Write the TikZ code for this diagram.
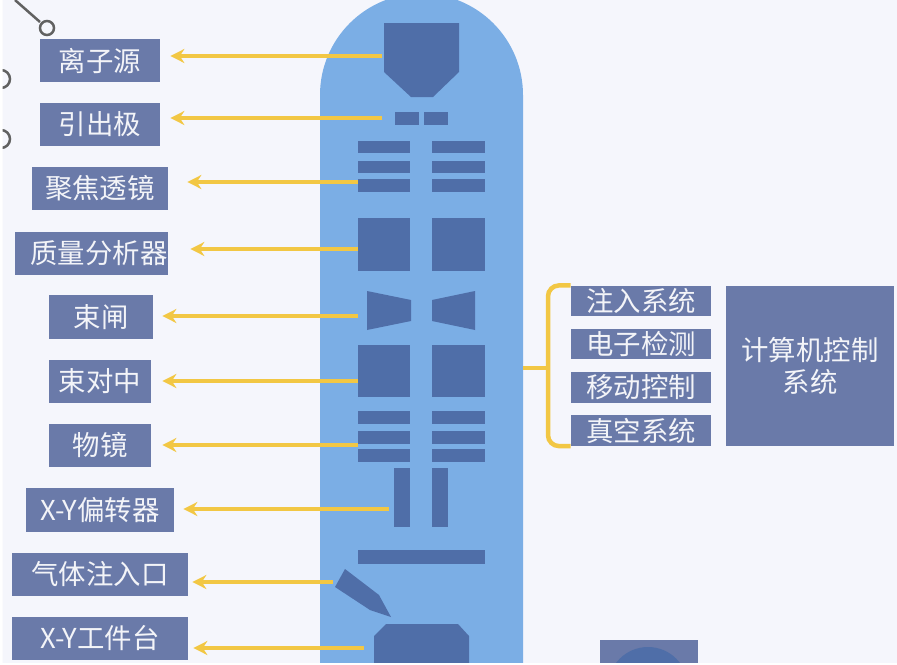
\documentclass[tikz,border=0pt]{standalone}
\usepackage{fontspec}
\setmainfont{Noto Sans CJK SC}
\usetikzlibrary{arrows.meta}
\definecolor{paper}{HTML}{F5F6FC}
\definecolor{column}{HTML}{7BAEE5}
\definecolor{part}{HTML}{4F6EA8}
\definecolor{tag}{HTML}{6A7AA9}
\definecolor{lead}{HTML}{F2C744}
\begin{document}
\begin{tikzpicture}[
  font=\fontsize{15.6}{18.6}\selectfont,
  tagbox/.style={draw=none,fill=tag,text=white!92!tag,inner sep=0pt,align=center},
  lefttag/.style={tagbox,minimum height=0.87cm},
  sidetag/.style={tagbox,minimum width=2.80cm,minimum height=0.61cm},
  piece/.style={draw=none,fill=part},
  arr/.style={draw=lead,line width=0.09cm,-{Stealth[length=0.28cm,width=0.28cm]}},
  brc/.style={draw=lead,line width=0.09cm},
  ring/.style={draw=black!62,line width=0.05cm},
]

\useasboundingbox (0,0) rectangle (17.94,-13.30);
\fill[white] (0,0) rectangle (17.94,-13.30);
\clip (0.05,0) rectangle (17.94,-13.24);
\fill[paper] (0,0) rectangle (17.94,-13.30);

\draw[ring] (0.30,0) -- (0.80,-0.44);
\draw[ring] (0.94,-0.56) circle (0.14);
\draw[ring] (0.02,-1.58) circle (0.18);
\draw[ring] (0.02,-2.78) circle (0.18);

\fill[column] (6.40,-13.30) -- (6.40,-1.90) arc[start angle=180,end angle=0,radius=2.03] -- (10.46,-13.30) -- cycle;

\fill[piece] (7.68,-0.46) -- (9.18,-0.46) -- (9.18,-1.44) -- (8.66,-1.94) -- (8.22,-1.94) -- (7.68,-1.44) -- cycle;
\fill[piece] (7.90,-2.24) rectangle (8.38,-2.50);
\fill[piece] (8.48,-2.24) rectangle (8.96,-2.50);

\fill[piece] (7.16,-2.82) rectangle (8.20,-3.06);
\fill[piece] (8.64,-2.82) rectangle (9.70,-3.06);
\fill[piece] (7.16,-3.22) rectangle (8.20,-3.46);
\fill[piece] (8.64,-3.22) rectangle (9.70,-3.46);
\fill[piece] (7.16,-3.58) rectangle (8.20,-3.84);
\fill[piece] (8.64,-3.58) rectangle (9.70,-3.84);

\fill[piece] (7.16,-4.36) rectangle (8.20,-5.42);
\fill[piece] (8.64,-4.36) rectangle (9.70,-5.42);

\fill[piece] (7.34,-5.82) -- (8.22,-6.00) -- (8.22,-6.42) -- (7.34,-6.60) -- cycle;
\fill[piece] (8.64,-6.00) -- (9.50,-5.82) -- (9.50,-6.60) -- (8.64,-6.42) -- cycle;

\fill[piece] (7.16,-6.90) rectangle (8.20,-7.94);
\fill[piece] (8.64,-6.90) rectangle (9.70,-7.94);

\fill[piece] (7.16,-8.22) rectangle (8.20,-8.48);
\fill[piece] (8.64,-8.22) rectangle (9.70,-8.48);
\fill[piece] (7.16,-8.62) rectangle (8.20,-8.88);
\fill[piece] (8.64,-8.62) rectangle (9.70,-8.88);
\fill[piece] (7.16,-8.98) rectangle (8.20,-9.24);
\fill[piece] (8.64,-8.98) rectangle (9.70,-9.24);

\fill[piece] (7.88,-9.36) rectangle (8.20,-10.54);
\fill[piece] (8.64,-9.36) rectangle (8.96,-10.54);

\fill[piece] (7.16,-11.00) rectangle (9.70,-11.28);

\fill[piece] (6.90,-11.38) -- (7.58,-11.90) -- (7.82,-12.34) -- (7.40,-12.20) -- (6.70,-11.74) -- cycle;

\fill[piece] (7.48,-13.30) -- (7.48,-12.72) -- (7.72,-12.48) -- (9.16,-12.48) -- (9.38,-12.72) -- (9.38,-13.30) -- cycle;

\coordinate (srcion) at (7.64,-1.12);
\coordinate (srcext) at (7.64,-2.36);
\coordinate (srcfoc) at (7.16,-3.64);
\coordinate (srcmas) at (7.16,-4.98);
\coordinate (srcgat) at (7.16,-6.32);
\coordinate (srcali) at (7.16,-7.62);
\coordinate (srcobj) at (7.16,-8.90);
\coordinate (srcdef) at (7.78,-10.18);
\coordinate (srcgas) at (6.66,-11.64);
\coordinate (srcsta) at (7.28,-12.96);

\node[lefttag,minimum width=2.40cm] (ion) at (2.00,-1.21) {离子源};
\node[lefttag,minimum width=2.40cm] (ext) at (2.00,-2.49) {引出极};
\node[lefttag,minimum width=2.72cm] (foc) at (2.00,-3.77) {聚焦透镜};
\node[lefttag,minimum width=3.06cm] (mas) at (1.83,-5.07) {\hspace*{0.30cm}质量分析器};
\node[lefttag,minimum width=2.08cm] (gat) at (2.02,-6.34) {束闸};
\node[lefttag,minimum width=2.04cm] (ali) at (2.00,-7.63) {束对中};
\node[lefttag,minimum width=2.04cm] (obj) at (2.00,-8.91) {物镜};
\node[lefttag,minimum width=2.96cm] (def) at (2.00,-10.20) {X-Y偏转器};
\node[lefttag,minimum width=3.52cm] (gas) at (2.00,-11.49) {气体注入口};
\node[lefttag,minimum width=3.52cm] (sta) at (2.00,-12.77) {X-Y工件台};

\draw[arr,shorten >=0.20cm] (srcion) -- (ion.east |- srcion);
\draw[arr,shorten >=0.20cm] (srcext) -- (ext.east |- srcext);
\draw[arr,shorten >=0.38cm] (srcfoc) -- (foc.east |- srcfoc);
\draw[arr,shorten >=0.44cm] (srcmas) -- (mas.east |- srcmas);
\draw[arr,shorten >=0.18cm] (srcgat) -- (gat.east |- srcgat);
\draw[arr,shorten >=0.22cm] (srcali) -- (ali.east |- srcali);
\draw[arr,shorten >=0.22cm] (srcobj) -- (obj.east |- srcobj);
\draw[arr,shorten >=0.18cm] (srcdef) -- (def.east |- srcdef);
\draw[arr,shorten >=0.08cm] (srcgas) -- (gas.east |- srcgas);
\draw[arr,shorten >=0.10cm] (srcsta) -- (sta.east |- srcsta);

\node[sidetag] (inj) at (12.82,-6.02) {注入系统};
\node[sidetag] (det) at (12.82,-6.88) {电子检测};
\node[sidetag] (mov) at (12.82,-7.75) {移动控制};
\node[sidetag] (vac) at (12.82,-8.61) {真空系统};
\node[tagbox,minimum width=3.36cm,minimum height=3.20cm] (ctl) at (16.20,-7.32) {计算机控制\\系统};

\coordinate (brcmid) at (10.96,-7.36);
\coordinate (brcend) at (10.46,-7.36);
\draw[brc,rounded corners=0.22cm] (inj.north west) -| (brcmid) |- (vac.south west);
\draw[brc] (brcend) -- (brcmid);

\node[draw=none,fill=tag,minimum width=1.96cm,minimum height=0.48cm,inner sep=0pt] (scr) at (12.98,-13.04) {};
\begin{scope}
\clip (scr.south west) rectangle (scr.north east);
\fill[piece] (12.96,-13.74) circle (0.80);
\end{scope}
\end{tikzpicture}
\end{document}
